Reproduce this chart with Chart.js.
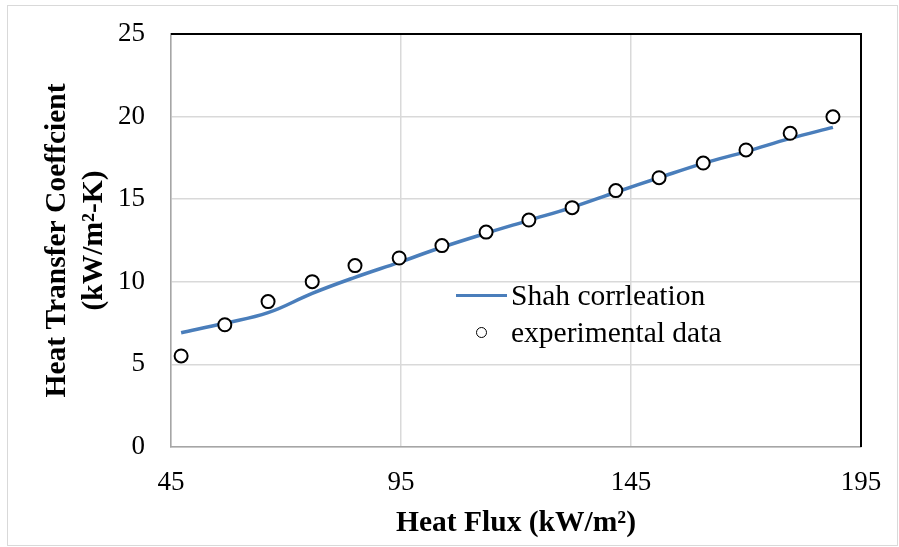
<!DOCTYPE html>
<html>
<head>
<meta charset="utf-8">
<script src="https://cdn.jsdelivr.net/npm/chart.js@4"></script>
<style>
  body { margin: 0; background: #fff; }
  #wrap { position: relative; width: 899px; height: 547px; }
  #frame { position: absolute; left: 7px; top: 5px; width: 889px; height: 539px; border: 1.5px solid #d9d9d9; pointer-events: none; }
  #legenda { position: absolute; left: 456px; top: 277px; font-family: 'Liberation Serif', 'Times New Roman', serif; font-size: 29.5px; color: #000; }
  .linha { display: flex; align-items: center; height: 37px; }
  .marca { width: 55px; display: flex; justify-content: center; align-items: center; }
  .traco { width: 51px; height: 3.5px; background: #4a7ebb; margin-right: 4px; }
  .bola { width: 9px; height: 9px; border: 1.8px solid #000; border-radius: 50%; margin-right: 4px; }
</style>
</head>
<body>
<div id="wrap">
  <canvas id="grafico" width="899" height="547"></canvas>
  <div id="frame"></div>
  <div id="legenda">
    <div class="linha"><span class="marca"><span class="traco"></span></span><span>Shah corrleation</span></div>
    <div class="linha"><span class="marca"><span class="bola"></span></span><span>experimental data</span></div>
  </div>
</div>
<script>
const fluxoCalor = [47.2, 56.7, 66.1, 75.7, 85.0, 94.6, 103.9, 113.5, 122.8, 132.2, 141.7, 151.1, 160.7, 170.0, 179.6, 188.9];
const coefShah = [6.92, 7.49, 8.13, 9.30, 10.27, 11.18, 12.09, 12.94, 13.72, 14.51, 15.42, 16.30, 17.17, 17.88, 18.68, 19.35];
const coefExperimental = [5.51, 7.40, 8.80, 10.01, 10.98, 11.44, 12.19, 13.01, 13.74, 14.49, 15.52, 16.30, 17.19, 17.98, 18.99, 19.99];
const ticksX = [45, 95, 145, 195];

const fonte = "'Liberation Serif', 'Times New Roman', serif";

window.onload = function () {

    const canvas = document.getElementById('grafico');

    // bordas de cima e da direita em preto, como no Excel
    const bordaPreta = {
        id: 'bordaPreta',
        beforeDatasetsDraw(chart) {
            const { ctx, chartArea } = chart;
            ctx.save();
            ctx.strokeStyle = '#000';
            ctx.lineWidth = 2;
            ctx.beginPath();
            ctx.moveTo(chartArea.left, chartArea.top);
            ctx.lineTo(chartArea.right, chartArea.top);
            ctx.lineTo(chartArea.right, chartArea.bottom);
            ctx.stroke();
            ctx.restore();
        }
    };

    new Chart(canvas, {
        type: 'scatter',
        data: {
            datasets: [{
                label: 'experimental data',
                data: fluxoCalor.map((x, i) => ({ x: x, y: coefExperimental[i] })),
                pointRadius: 6.5,
                pointBorderWidth: 2,
                pointBorderColor: '#000',
                pointBackgroundColor: '#fff',
                order: 1
            }, {
                label: 'Shah corrleation',
                data: fluxoCalor.map((x, i) => ({ x: x, y: coefShah[i] })),
                showLine: true,
                borderColor: '#4a7ebb',
                borderWidth: 3.5,
                pointRadius: 0,
                tension: 0.4,
                order: 2
            }]
        },
        options: {
            responsive: false,
            animation: false,
            layout: { padding: { top: 34, right: 38, left: 0, bottom: 0 } },
            plugins: { legend: { display: false }, tooltip: { enabled: false } },
            scales: {
                x: {
                    type: 'linear',
                    min: 45,
                    max: 195,
                    afterBuildTicks: (eixo) => { eixo.ticks = ticksX.map(v => ({ value: v })); },
                    afterFit: (eixo) => { eixo.height = 100; eixo.paddingLeft = 0; eixo.paddingRight = 0; },
                    grid: { color: '#d9d9d9', lineWidth: 1.5, drawTicks: false },
                    border: { color: '#a6a6a6', width: 1.5 },
                    ticks: { color: '#000', padding: 20, font: { family: fonte, size: 27 } },
                    title: {
                        display: true,
                        text: 'Heat Flux (kW/m²)',
                        color: '#000',
                        padding: { top: 0, bottom: 6 },
                        font: { family: fonte, size: 29.5, weight: 'bold', lineHeight: 1.2 }
                    }
                },
                y: {
                    min: 0,
                    max: 25,
                    afterFit: (eixo) => { eixo.width = 171; eixo.paddingTop = 0; eixo.paddingBottom = 0; },
                    grid: { color: '#d9d9d9', lineWidth: 1.5, drawTicks: false },
                    border: { color: '#a6a6a6', width: 1.5 },
                    ticks: { stepSize: 5, color: '#000', padding: 26, font: { family: fonte, size: 27 } },
                    title: {
                        display: true,
                        text: ['Heat Transfer Coeffcient', '(kW/m²-K)'],
                        color: '#000',
                        padding: { top: 39, bottom: 0 },
                        font: { family: fonte, size: 29.5, weight: 'bold', lineHeight: 1.25 }
                    }
                }
            }
        },
        plugins: [bordaPreta]
    });

};
</script>
</body>
</html>
